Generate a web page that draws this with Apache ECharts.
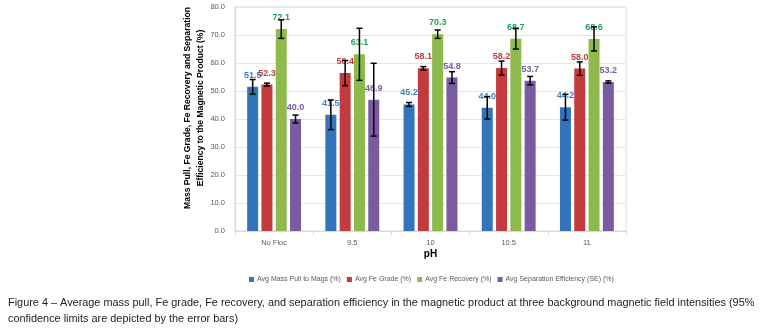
<!DOCTYPE html>
<html>
<head>
<meta charset="utf-8">
<script src="https://cdn.jsdelivr.net/npm/echarts@6/dist/echarts.min.js"></script>
<style>
  html, body { margin: 0; padding: 0; background: #fff; }
  #main { width: 766px; height: 328px; }
</style>
</head>
<body>
<div id="main"></div>
<script>
// pH categories
const categories = ["No Floc", "9.5", "10", "10.5", "11"];

// means (%)
const massPull = [51.5, 41.5, 45.2, 44.0, 44.2];
const feGrade = [52.3, 56.4, 58.1, 58.2, 58.0];
const feRecovery = [72.1, 63.1, 70.3, 68.7, 68.6];
const sepEff = [40.0, 46.9, 54.8, 53.7, 53.2];

// 95% confidence half widths
const massPullErr = [2.6, 5.3, 0.7, 4.0, 4.6];
const feGradeErr = [0.5, 4.5, 0.6, 2.5, 2.4];
const feRecoveryErr = [3.3, 9.3, 1.5, 3.7, 4.3];
const sepEffErr = [1.4, 13.0, 2.1, 1.5, 0.4];

const seriesNames = [
  "Avg Mass Pull to Mags (%)",
  "Avg Fe Grade (%)",
  "Avg Fe Recovery (%)",
  "Avg Separation Efficiency (SE) (%)"
];
const barColors = ["#3474ba", "#c23b3e", "#8eb94b", "#7a5ba0"];
const labelColors = ["#3d85c6", "#c23b3e", "#1ea35a", "#7a5ba0"];

const chart = echarts.init(document.getElementById("main"), null, { renderer: "canvas" });

const BAR_W = 11;
const GAP = 0.3; // barGap as fraction of bar width
const step = BAR_W * (1 + GAP);

const means = [massPull, feGrade, feRecovery, sepEff];
const errs = [massPullErr, feGradeErr, feRecoveryErr, sepEffErr];

const series = [];
means.forEach(function (vals, i) {
  series.push({
    name: seriesNames[i],
    type: "bar",
    data: vals,
    barWidth: BAR_W,
    barGap: GAP * 100 + "%",
    itemStyle: { color: barColors[i] },
    label: {
      show: true,
      position: "top",
      distance: 7,
      color: labelColors[i],
      fontSize: 9,
      fontWeight: "bold",
      formatter: function (p) { return p.value.toFixed(1); }
    },
    z: 2
  });
});

// error bars drawn with a custom series per bar series
means.forEach(function (vals, i) {
  const offset = (i - 1.5) * step;
  series.push({
    type: "custom",
    name: seriesNames[i],
    silent: true,
    z: 5,
    data: vals.map(function (v, k) { return [k, v - errs[i][k], v + errs[i][k]]; }),
    renderItem: function (params, api) {
      const lo = api.coord([api.value(0), api.value(1)]);
      const hi = api.coord([api.value(0), api.value(2)]);
      const x = lo[0] + offset;
      const cap = 3;
      const style = { stroke: "#000", lineWidth: 1.5 };
      return {
        type: "group",
        children: [
          { type: "line", shape: { x1: x, y1: lo[1], x2: x, y2: hi[1] }, style: style },
          { type: "line", shape: { x1: x - cap, y1: lo[1], x2: x + cap, y2: lo[1] }, style: style },
          { type: "line", shape: { x1: x - cap, y1: hi[1], x2: x + cap, y2: hi[1] }, style: style }
        ]
      };
    },
    encode: { x: 0, y: [1, 2] }
  });
});

chart.setOption({
  animation: false,
  textStyle: { fontFamily: "Liberation Sans" },
  grid: {
    left: 235, right: 140, top: 7, bottom: 97,
    outerBoundsMode: "none",
    show: true, borderColor: "#d9d9d9", borderWidth: 1
  },
  title: {
    text: "Figure 4 \u2013 Average mass pull, Fe grade, Fe recovery, and separation efficiency in the magnetic product at three background magnetic field intensities (95%\nconfidence limits are depicted by the error bars)",
    left: 3, top: 290,
    textStyle: {
      fontFamily: "Liberation Sans",
      fontSize: 10.9,
      fontWeight: "normal",
      color: "#222",
      lineHeight: 16
    }
  },
  legend: {
    data: seriesNames,
    left: 244,
    top: 271,
    itemWidth: 5,
    itemHeight: 5,
    itemGap: 6,
    icon: "rect",
    textStyle: { fontSize: 7, color: "#595959", padding: [0, 0, 0, -2] }
  },
  xAxis: {
    type: "category",
    data: categories,
    name: "pH",
    nameLocation: "middle",
    nameGap: 18,
    nameMoveOverlap: false,
    nameTextStyle: { fontSize: 10, fontWeight: "bold", color: "#000" },
    axisLine: { lineStyle: { color: "#d9d9d9" } },
    axisTick: { show: true, length: 4, lineStyle: { color: "#d9d9d9" } },
    axisLabel: { color: "#595959", fontSize: 7.5, margin: 8 }
  },
  yAxis: {
    type: "value",
    min: 0, max: 80, interval: 10,
    name: "Mass Pull, Fe Grade, Fe Recovery and Separation\nEfficiency to the Magnetic Product (%)",
    nameLocation: "middle",
    nameGap: 28,
    nameMoveOverlap: false,
    nameTextStyle: { fontSize: 8.6, fontWeight: "bold", color: "#000", lineHeight: 13, padding: [0, 0, 0, 22] },
    axisLine: { show: true, lineStyle: { color: "#d9d9d9" } },
    axisTick: { show: false },
    splitLine: { lineStyle: { color: "#e6e6e6" } },
    axisLabel: {
      color: "#595959", fontSize: 7.5, margin: 10,
      formatter: function (v) { return v.toFixed(1); }
    }
  },
  series: series
});
</script>
</body>
</html>
